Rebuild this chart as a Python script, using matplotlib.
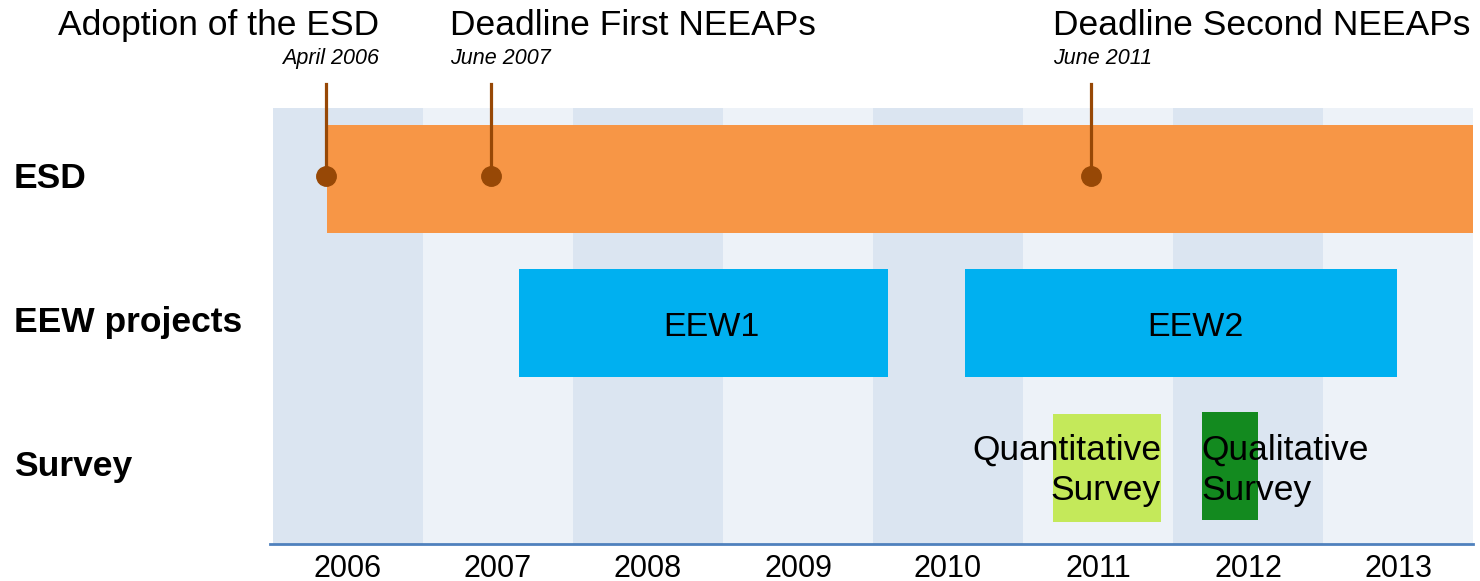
import matplotlib
matplotlib.use("Agg")
import matplotlib.pyplot as plt
import matplotlib.transforms as mtransforms

plt.rcParams['font.family'] = ['Liberation Sans', 'DejaVu Sans']

# ================= data =================
years = [2006, 2007, 2008, 2009, 2010, 2011, 2012, 2013]
rows = ["ESD", "EEW projects", "Survey"]

# bars: (row, start, end) in fractional calendar years
bar_names = ["ESD", "EEW1", "EEW2", "Quantitative\nSurvey", "Qualitative\nSurvey"]
bar_rows = [0.0, 1.0, 1.0, 2.006, 1.993]
bar_start = [2006.36, 2007.64, 2010.61, 2011.20, 2012.19]
bar_end = [2014.0, 2010.10, 2013.49, 2011.92, 2012.57]

# milestones on the ESD row
milestone_names = ["Adoption of the ESD", "Deadline First NEEAPs", "Deadline Second NEEAPs"]
milestone_dates = ["April 2006", "June 2007", "June 2011"]
milestone_x = [2006.35, 2007.45, 2011.45]

# ================= style =================
col_dark = "#dbe5f1"
col_light = "#edf2f8"
bar_colors = ["#f79646", "#00b0f0", "#00b0f0", "#c4e95a", "#138a1f"]
ms_color = "#974806"
axis_color = "#4f81bd"

W, H = 1480, 581
fig = plt.figure(figsize=(W / 100, H / 100), dpi=100)
# axes spans the shaded panel (pixel box 273..1473 x 108..544)
ax = fig.add_axes([273 / W, 1 - 544 / H, 1200 / W, 436 / H])
ax.set_xlim(years[0], years[-1] + 1)
# row units: 144 px per row, row 0 centred at y=179 px
ax.set_ylim((544 - 179) / 144, (108 - 179) / 144)

for i, y in enumerate(years):
    ax.axvspan(y, y + 1, color=col_dark if i % 2 == 0 else col_light, lw=0, zorder=0)

bar_h = 0.75
for name, r, s, e, c in zip(bar_names, bar_rows, bar_start, bar_end, bar_colors):
    ax.barh(r, e - s, left=s, height=bar_h, color=c, lw=0, zorder=2)

# bar labels
eew_base = (336.5 - 179) / 144
ax.text((bar_start[1] + bar_end[1]) / 2 + 0.05, eew_base, bar_names[1], ha='center', va='baseline',
        fontsize=24.5, zorder=5)
ax.text((bar_start[2] + bar_end[2]) / 2 + 0.1, eew_base, bar_names[2], ha='center', va='baseline',
        fontsize=24.5, zorder=5)
survey_base = (500 - 179) / 144
ax.text(bar_end[3], survey_base, bar_names[3], ha='right', va='baseline',
        multialignment='right', fontsize=25.5, linespacing=1.27, zorder=5)
ax.text(bar_start[4], survey_base, bar_names[4], ha='left', va='baseline',
        multialignment='left', fontsize=25.5, linespacing=1.27, zorder=5)

# milestones
stem_top = (84 - 179) / 144
dot_y = (176 - 179) / 144
for x in milestone_x:
    ax.plot([x, x], [stem_top, dot_y], color=ms_color, lw=2.3, clip_on=False, zorder=4)
    ax.plot(x, dot_y, 'o', color=ms_color, ms=14, clip_on=False, zorder=4)

title_y = (35 - 179) / 144
date_y = (64 - 179) / 144
label_x = [2006.71, 2007.18, 2011.20]
label_ha = ['right', 'left', 'left']
for name, date, lx, ha in zip(milestone_names, milestone_dates, label_x, label_ha):
    ax.text(lx, title_y, name, ha=ha, va='baseline', fontsize=25.5, clip_on=False)
    ax.text(lx, date_y, date, ha=ha, va='baseline', fontsize=15.5, style='italic', clip_on=False)

# row labels at the left edge of the figure
trans = mtransforms.blended_transform_factory(fig.transFigure, ax.transData)
for i, name in enumerate(rows):
    ax.text(14 / W, i + 0.06, name, transform=trans, ha='left', va='baseline',
            fontsize=25.5, fontweight='bold')

# x axis
ax.set_xticks([y + 0.5 for y in years])
ax.set_xticklabels([str(y) for y in years], fontsize=22)
ax.tick_params(axis='x', length=0, pad=7)
ax.set_yticks([])
for s in ['top', 'right', 'left']:
    ax.spines[s].set_visible(False)
ax.spines['bottom'].set_color(axis_color)
ax.spines['bottom'].set_linewidth(2)
ax.spines['bottom'].set_bounds(years[0] - 3 / 150, years[-1] + 1)

fig.savefig("out.png", dpi=100)
